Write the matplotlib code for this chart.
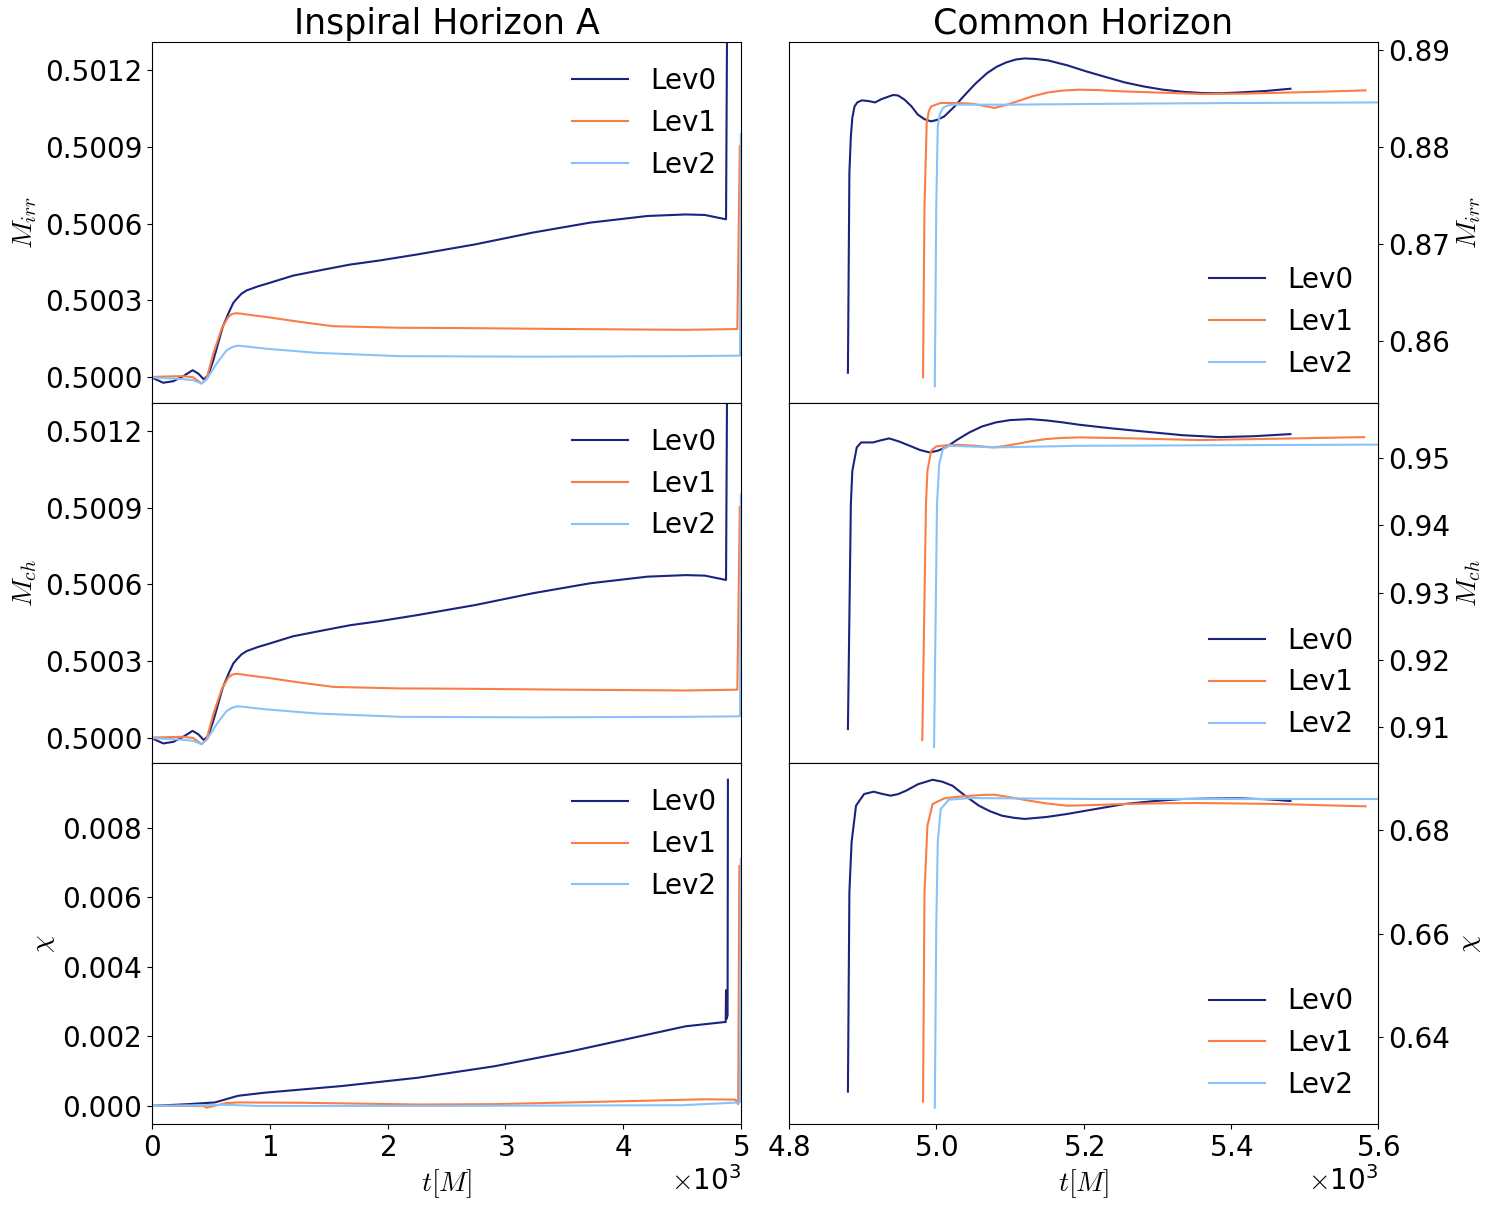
import matplotlib
matplotlib.use("Agg")
import matplotlib.pyplot as plt
from matplotlib.ticker import FormatStrFormatter

c0, c1, c2 = "#1a237e", "#fa7d46", "#87c3fa"
labels = ["Lev0", "Lev1", "Lev2"]

# ---- inspiral horizon A (M_ch is the same as M_irr at this resolution)
ins_t0 = [0, 15, 96, 181, 266, 345, 393, 441, 478, 521, 577, 600, 648, 690, 719, 760, 804,
          900, 974, 1199, 1454, 1681, 1932, 2257, 2744, 3232, 3719, 4206, 4531, 4693, 4873,
          4889]
ins_m0 = [0.50000, 0.499995, 0.499978, 0.499984, 0.500004, 0.500027, 0.500014, 0.499991,
          0.500008, 0.500066, 0.500157, 0.500195, 0.500248, 0.500290, 0.500306, 0.500326,
          0.500339, 0.500355, 0.500365, 0.500397, 0.500420, 0.500440, 0.500456, 0.500480,
          0.500519, 0.500565, 0.500604, 0.500630, 0.500636, 0.500634, 0.500617, 0.50200]
ins_t1 = [0, 266, 351, 422, 464, 521, 592, 648, 680, 719, 760, 850, 974, 1256, 1539, 2105,
          2582, 3557, 4531, 4969, 4990]
ins_m1 = [0.500001, 0.500004, 0.499999, 0.499975, 0.499995, 0.500092, 0.500190, 0.500235,
          0.500247, 0.500250, 0.500248, 0.500242, 0.500235, 0.500216, 0.500199, 0.500193,
          0.500192, 0.500188, 0.500185, 0.500188, 0.500903]
ins_t2 = [0, 266, 351, 422, 464, 549, 634, 680, 724, 780, 870, 974, 1398, 2105, 3232, 4531,
          4992, 4999]
ins_m2 = [0.499999, 0.499992, 0.499988, 0.499975, 0.499991, 0.500053, 0.500105, 0.500117,
          0.500123, 0.500121, 0.500116, 0.500111, 0.500095, 0.500082, 0.500080, 0.500082,
          0.500084, 0.50095]

ins_ct0 = [0, 308, 535, 730, 958, 1608, 2257, 2907, 3557, 4206, 4531, 4856, 4870, 4873,
           4876, 4886, 4889]
ins_chi0 = [0.0, 0.00005, 0.0001, 0.00029, 0.00038, 0.00057, 0.00081, 0.00114, 0.00157,
            0.00205, 0.00229, 0.00241, 0.00241, 0.00333, 0.0025, 0.0026, 0.00938]
ins_ct1 = [0, 437, 463, 632, 730, 1282, 2257, 2907, 3557, 4206, 4693, 4953, 4976, 4986]
ins_chi1 = [0.0, 0.0, -0.00005, 0.00008, 0.0001, 0.00009, 0.00004, 0.00005, 0.0001,
            0.00015, 0.00019, 0.00018, 0.00005, 0.0069]
ins_ct2 = [0, 632, 900, 2500, 4500, 4990, 4999]
ins_chi2 = [0.0, 0.00003, 0.0, 0.0, 0.00002, 0.0001, 0.0071]

# ---- common horizon
com_t0 = [4880, 4882, 4884, 4886, 4889, 4893, 4899, 4908, 4917, 4925, 4941, 4948, 4957, 4966,
          4975, 4984, 4993, 5002, 5011, 5024, 5037, 5053, 5069, 5082, 5095, 5108, 5120, 5136,
          5152, 5178, 5204, 5230, 5256, 5282, 5308, 5334, 5360, 5386, 5412, 5446, 5481]
com_m0 = [0.85673, 0.87733, 0.88109, 0.88300, 0.88417, 0.88460, 0.88479, 0.88472, 0.88458,
          0.88490, 0.88534, 0.88530, 0.88486, 0.88420, 0.88332, 0.88285, 0.88263, 0.88280,
          0.88315, 0.88410, 0.88520, 0.88650, 0.88760, 0.88825, 0.88870, 0.88900, 0.88911,
          0.88905, 0.88890, 0.88840, 0.88777, 0.88720, 0.88664, 0.88622, 0.88589, 0.88568,
          0.88555, 0.88552, 0.88561, 0.88575, 0.88599]
com_t1 = [4982, 4984, 4987, 4990, 4993, 5006, 5020, 5035, 5048, 5063, 5079, 5094, 5110, 5130,
          5152, 5172, 5193, 5220, 5256, 5300, 5360, 5410, 5455, 5520, 5583]
com_m1 = [0.85626, 0.87390, 0.88247, 0.88370, 0.88417, 0.88452, 0.88452, 0.88450, 0.88445,
          0.88425, 0.88401, 0.88430, 0.88469, 0.88520, 0.88561, 0.88580, 0.88589, 0.88585,
          0.88571, 0.88560, 0.88545, 0.88548, 0.88555, 0.88568, 0.88582]
com_t2 = [4998, 5000, 5002, 5005, 5009, 5015, 5022, 5100, 5256, 5412, 5610]
com_m2 = [0.85533, 0.87390, 0.88212, 0.88340, 0.88401, 0.88425, 0.88435, 0.88435, 0.88445,
          0.88452, 0.88458]

com_ht0 = [4880, 4884, 4886, 4892, 4898, 4914, 4925, 4936, 4950, 4964, 4978, 4991, 5002,
           5013, 5028, 5045, 5062, 5081, 5100, 5127, 5150, 5172, 5195, 5240, 5290, 5335,
           5385, 5430, 5481]
com_mch0 = [0.90970, 0.94316, 0.94811, 0.95159, 0.95233, 0.95233, 0.95265, 0.95293, 0.95245,
            0.95183, 0.95120, 0.95084, 0.95110, 0.95159, 0.95270, 0.95382, 0.95470, 0.95531,
            0.95565, 0.95580, 0.95560, 0.95531, 0.95495, 0.95440, 0.95387, 0.95340, 0.95312,
            0.95325, 0.95357]
com_ht1 = [4981, 4986, 4988, 4993, 5000, 5013, 5027, 5040, 5054, 5066, 5077, 5090, 5108,
           5128, 5149, 5170, 5195, 5260, 5358, 5470, 5581]
com_mch1 = [0.90807, 0.94316, 0.94811, 0.95109, 0.95174, 0.95190, 0.95198, 0.95192, 0.95183,
            0.95170, 0.95159, 0.95175, 0.95208, 0.95250, 0.95283, 0.95300, 0.95308, 0.95295,
            0.95268, 0.95290, 0.95312]
com_ht2 = [4997, 5001, 5004, 5009, 5018, 5081, 5195, 5610]
com_mch2 = [0.90703, 0.94316, 0.94911, 0.95134, 0.95183, 0.95159, 0.95183, 0.95201]

com_ct0 = [4880, 4882, 4885, 4891, 4902, 4915, 4925, 4938, 4948, 4959, 4975, 4995, 5008,
           5022, 5040, 5058, 5073, 5089, 5105, 5120, 5150, 5178, 5217, 5256, 5295, 5334,
           5372, 5412, 5450, 5481]
com_chi0 = [0.62956, 0.66802, 0.67763, 0.68467, 0.68692, 0.68737, 0.68700, 0.68660, 0.68690,
            0.68756, 0.68880, 0.68967, 0.68930, 0.68852, 0.68650, 0.68467, 0.68360, 0.68275,
            0.68235, 0.68212, 0.68250, 0.68308, 0.68405, 0.68500, 0.68555, 0.68596, 0.68605,
            0.68609, 0.68590, 0.68558]
com_ct1 = [4982, 4984, 4988, 4995, 5011, 5030, 5048, 5063, 5079, 5100, 5126, 5150, 5178,
           5215, 5256, 5310, 5360, 5464, 5520, 5583]
com_chi1 = [0.62763, 0.66802, 0.68083, 0.68500, 0.68609, 0.68640, 0.68660, 0.68675, 0.68679,
            0.68630, 0.68564, 0.68510, 0.68467, 0.68480, 0.68500, 0.68515, 0.68519, 0.68500,
            0.68478, 0.68455]
com_ct2 = [4998, 5000, 5002, 5006, 5017, 5048, 5212, 5412, 5610]
com_chi2 = [0.62648, 0.66160, 0.67763, 0.68404, 0.68583, 0.68615, 0.68596, 0.68596, 0.68596]

plt.rcParams["font.size"] = 20
plt.rcParams["mathtext.fontset"] = "cm"
fig, axes = plt.subplots(3, 2, figsize=(14.94, 12.05), dpi=100, sharex="col")
fig.subplots_adjust(left=0.1017, right=0.9224, top=0.9651, bottom=0.0672,
                    wspace=0.0815, hspace=0)

left_data = [
    [(ins_t0, ins_m0), (ins_t1, ins_m1), (ins_t2, ins_m2)],
    [(ins_t0, ins_m0), (ins_t1, ins_m1), (ins_t2, ins_m2)],
    [(ins_ct0, ins_chi0), (ins_ct1, ins_chi1), (ins_ct2, ins_chi2)],
]
right_data = [
    [(com_t0, com_m0), (com_t1, com_m1), (com_t2, com_m2)],
    [(com_ht0, com_mch0), (com_ht1, com_mch1), (com_ht2, com_mch2)],
    [(com_ct0, com_chi0), (com_ct1, com_chi1), (com_ct2, com_chi2)],
]
ylabels = [r"$M_{irr}$", r"$M_{ch}$", r"$\chi$"]

for row in range(3):
    axl = axes[row, 0]
    axr = axes[row, 1]
    for (t, v), c, lab in zip(left_data[row], [c0, c1, c2], labels):
        axl.plot(t, v, color=c, lw=1.5, label=lab)
    for (t, v), c, lab in zip(right_data[row], [c0, c1, c2], labels):
        axr.plot(t, v, color=c, lw=1.5, label=lab)
    axl.legend(loc="upper right", frameon=False, fontsize=20)
    axr.legend(loc="lower right", frameon=False, fontsize=20)
    axl.set_ylabel(ylabels[row])
    axr.set_ylabel(ylabels[row])
    axr.yaxis.set_label_position("right")
    axr.yaxis.tick_right()
    if row < 2:
        axl.set_ylim(0.49990, 0.50131)
        axl.set_yticks([0.5, 0.5003, 0.5006, 0.5009, 0.5012])
        axl.yaxis.set_major_formatter(FormatStrFormatter("%.4f"))
    else:
        axl.set_yticks([0.0, 0.002, 0.004, 0.006, 0.008])
        axl.yaxis.set_major_formatter(FormatStrFormatter("%.3f"))
    axr.yaxis.set_major_formatter(FormatStrFormatter("%.2f"))

axes[0, 1].set_yticks([0.86, 0.87, 0.88, 0.89])
axes[1, 1].set_yticks([0.91, 0.92, 0.93, 0.94, 0.95])
axes[2, 1].set_yticks([0.64, 0.66, 0.68])

axes[0, 0].set_xlim(0, 5000)
axes[0, 1].set_xlim(4800, 5600)
axes[2, 1].set_xticks([4800, 5000, 5200, 5400, 5600])

for ax in axes[2]:
    ax.set_xlabel(r"$t[M]$")
    ax.ticklabel_format(axis="x", style="sci", scilimits=(3, 3), useMathText=True)
    ax.xaxis.get_offset_text().set_fontsize(20)

axes[0, 0].set_title("Inspiral Horizon A", fontsize=25)
axes[0, 1].set_title("Common Horizon", fontsize=25)

fig.savefig("out.png", dpi=100)
